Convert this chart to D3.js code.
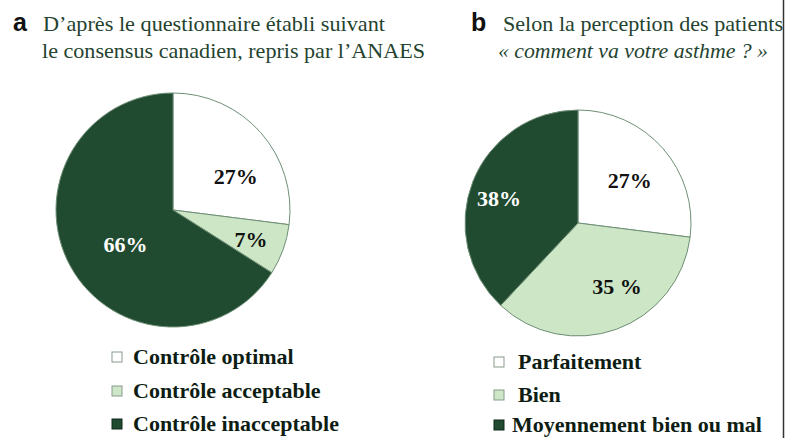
<!DOCTYPE html>
<html><head><meta charset="utf-8">
<script src="https://cdn.jsdelivr.net/npm/d3@7"></script>
<style>body{margin:0;background:#fff}svg{display:block}</style>
</head><body>
<svg id="c" width="785" height="438"></svg>
<script>
// ---- data ----
const catsA = ["Contrôle optimal", "Contrôle acceptable", "Contrôle inacceptable"];
const valsA = [27, 7, 66];
const labelsA = ["27%", "7%", "66%"];
const titleA = ["D’après le questionnaire établi suivant", "le consensus canadien, repris par l’ANAES"];

const catsB = ["Parfaitement", "Bien", "Moyennement bien ou mal"];
const valsB = [27, 35, 38];
const labelsB = ["27%", "35 %", "38%"];
const titleB = ["Selon la perception des patients", "« comment va votre asthme ? »"];

// ---- style / layout ----
const fills = ["#ffffff", "#cde6c6", "#214b31"];
const labelColors = ["#111", "#111", "#fff"];
const svg = d3.select("#c");
const serif = "'Liberation Serif','Times New Roman',serif";

function drawPanel(cfg) {
  const g = svg.append("g");
  g.append("text").attr("x", cfg.letterX).attr("y", 31)
    .attr("font-family", "'Liberation Sans',Arial,sans-serif").attr("font-weight", "bold")
    .attr("font-size", 25).attr("fill", "#111").text(cfg.letter);
  cfg.title.forEach((t, i) => {
    g.append("text").attr("x", cfg.titleX[i]).attr("y", 31 + i * 27)
      .attr("font-family", serif).attr("font-size", 22)
      .attr("font-style", cfg.italic[i] ? "italic" : "normal")
      .attr("textLength", cfg.titleW[i]).attr("lengthAdjust", "spacingAndGlyphs")
      .attr("fill", "#24432f").text(t);
  });
  const pie = d3.pie().sort(null).startAngle(0).endAngle(2 * Math.PI)(cfg.vals);
  const arc = d3.arc().innerRadius(0).outerRadius(cfg.r);
  const lab = d3.arc().innerRadius(cfg.r * 0.6).outerRadius(cfg.r * 0.6);
  const pg = g.append("g").attr("transform", `translate(${cfg.cx},${cfg.cy})`);
  pg.selectAll("path").data(pie).join("path")
    .attr("d", arc).attr("fill", (d, i) => fills[i])
    .attr("stroke", "#6f8f76").attr("stroke-width", 1);
  pg.selectAll("text").data(pie).join("text")
    .attr("transform", (d, i) => {
      const c = lab.centroid(d);
      return `translate(${c[0] + cfg.nudge[i][0]},${c[1] + cfg.nudge[i][1]})`;
    })
    .attr("text-anchor", "middle").attr("dy", "0.35em")
    .attr("font-family", serif).attr("font-weight", "bold").attr("font-size", 22)
    .attr("fill", (d, i) => labelColors[i])
    .text((d, i) => cfg.labels[i]);
  const lg = g.append("g");
  cfg.cats.forEach((c, i) => {
    const y = cfg.legY[i];
    lg.append("rect").attr("x", cfg.sqX).attr("y", y - 12).attr("width", 10).attr("height", 10)
      .attr("fill", fills[i]).attr("stroke", i === 2 ? "#0f2618" : "#8a9a8e").attr("stroke-width", 1);
    lg.append("text").attr("x", cfg.txtX[i]).attr("y", y)
      .attr("font-family", serif).attr("font-weight", "bold").attr("font-size", 22)
      .attr("fill", "#0e1d13").text(c);
  });
}

drawPanel({
  letter: "a", letterX: 13, title: titleA, titleX: [43, 42], titleW: [342, 383], italic: [false, false],
  vals: valsA, labels: labelsA, cats: catsA,
  cx: 173, cy: 210, r: 117,
  nudge: [[10, 13], [12, 6], [14, 0]],
  sqX: 112, txtX: [133, 133, 133], legY: [364, 398, 431]
});
drawPanel({
  letter: "b", letterX: 471, title: titleB, titleX: [503, 498], titleW: [280, 270], italic: [false, true],
  vals: valsB, labels: labelsB, cats: catsB,
  cx: 578, cy: 223, r: 113,
  nudge: [[1, 2], [16, 0], [-16, 0]],
  sqX: 494, txtX: [518, 518, 512], legY: [369, 402, 432]
});

svg.append("line").attr("x1", 783.5).attr("x2", 783.5).attr("y1", 0).attr("y2", 438)
  .attr("stroke", "#333").attr("stroke-width", 1.5);
</script>
</body></html>
